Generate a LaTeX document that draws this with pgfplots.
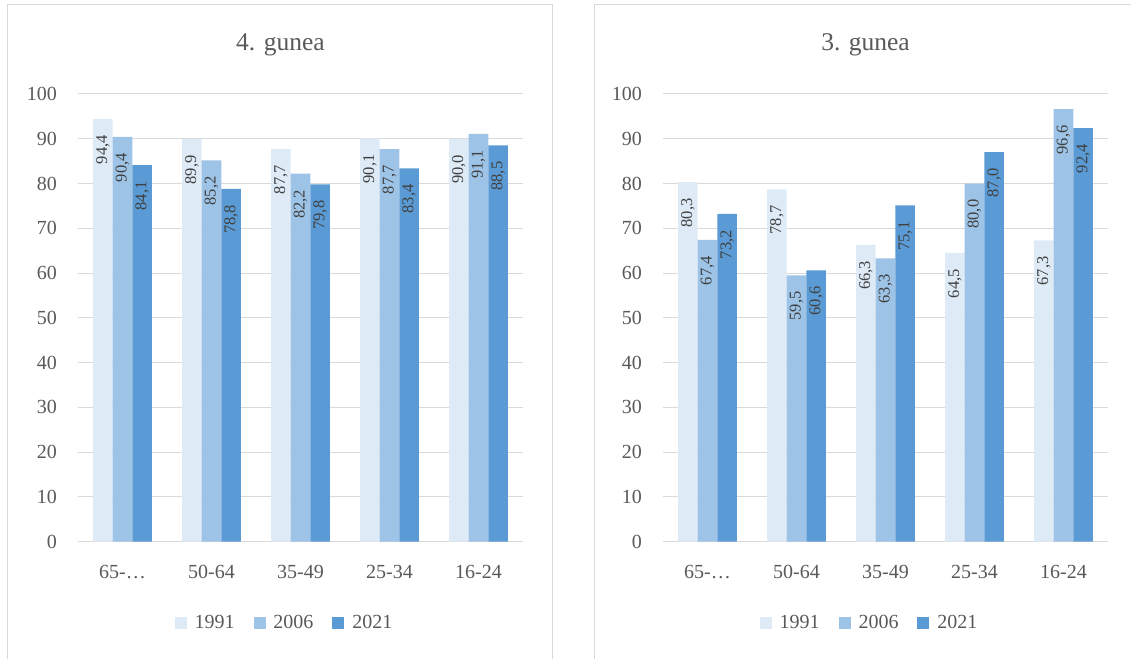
\documentclass[border=0pt]{standalone}
\usepackage{pgfplots}
\pgfplotsset{compat=1.18}
\usepackage{fontspec}
\setmainfont{Liberation Serif}
\definecolor{c1}{HTML}{DEEBF7}
\definecolor{c2}{HTML}{9DC3E6}
\definecolor{c3}{HTML}{5B9BD5}
\definecolor{gridc}{HTML}{D9D9D9}
\definecolor{txt}{HTML}{595959}
\definecolor{lbl}{HTML}{404040}
\pgfplotsset{
  sq/.style={legend image code/.code={\path[##1, draw=none] (0bp,-6bp) rectangle (12bp,6bp);}},
  panel/.style={
    scale only axis, width=445bp, height=447.7bp,
    xmin=-0.5, xmax=4.5, ymin=0, ymax=100,
    ybar=0pt, bar width=19.6bp,
    axis line style={draw=none},
    major tick length=0pt,
    ymajorgrids, major grid style={draw=gridc, line width=1bp},
    ytick={0,10,...,100},
    xtick={0,1,2,3,4},
    xticklabels={65-…,50-64,35-49,25-34,16-24},
    /pgf/number format/assume math mode=true,
    tick label style={font=\fontsize{20bp}{24bp}\selectfont, text=txt},
    yticklabel style={inner sep=0pt, xshift=-21bp},
    xticklabel style={inner sep=0pt, yshift=-23bp},
    title style={at={(0.5,1)}, anchor=base, yshift=38bp, xshift=-20bp,
      font=\fontsize{25.5bp}{30bp}\selectfont, text=txt},
    nodes near coords={\pgfmathprintnumber[fixed,fixed zerofill,precision=1,use comma,assume math mode=true]{\pgfplotspointmeta}},
    every node near coord/.append style={rotate=90, anchor=east, inner xsep=16bp, inner ysep=0pt,
      font=\fontsize{16.5bp}{20bp}\selectfont, text=lbl},
    legend style={at={(0.5,-0.181)}, anchor=center, xshift=-16bp, draw=none, fill=none,
      font=\fontsize{20bp}{24bp}\selectfont, text=txt,
      /tikz/every odd column/.append style={column sep=6bp},
      /tikz/every even column/.append style={column sep=17bp}},
    legend columns=-1,
    clip=false,
  }
}
\begin{document}
\begin{tikzpicture}
\useasboundingbox (0,0) rectangle (1131bp,659bp);
\draw[gridc, line width=1bp] (7bp,-2bp) -- (7bp,654bp) -- (552bp,654bp) -- (552bp,-2bp);
\draw[gridc, line width=1bp] (594bp,-2bp) -- (594bp,654bp) -- (1140bp,654bp);
\begin{axis}[panel, at={(78bp,117.3bp)}, anchor=south west, title={4. gunea}]
\addplot[fill=c1, draw=none, sq] coordinates {(0,94.4)(1,89.9)(2,87.7)(3,90.1)(4,90.0)};
\addplot[fill=c2, draw=none, sq] coordinates {(0,90.4)(1,85.2)(2,82.2)(3,87.7)(4,91.1)};
\addplot[fill=c3, draw=none, sq] coordinates {(0,84.1)(1,78.8)(2,79.8)(3,83.4)(4,88.5)};
\legend{1991,2006,2021}
\end{axis}
\begin{axis}[panel, at={(663bp,117.3bp)}, anchor=south west, title={3. gunea}]
\addplot[fill=c1, draw=none, sq] coordinates {(0,80.3)(1,78.7)(2,66.3)(3,64.5)(4,67.3)};
\addplot[fill=c2, draw=none, sq] coordinates {(0,67.4)(1,59.5)(2,63.3)(3,80.0)(4,96.6)};
\addplot[fill=c3, draw=none, sq] coordinates {(0,73.2)(1,60.6)(2,75.1)(3,87.0)(4,92.4)};
\legend{1991,2006,2021}
\end{axis}
\end{tikzpicture}
\end{document}
